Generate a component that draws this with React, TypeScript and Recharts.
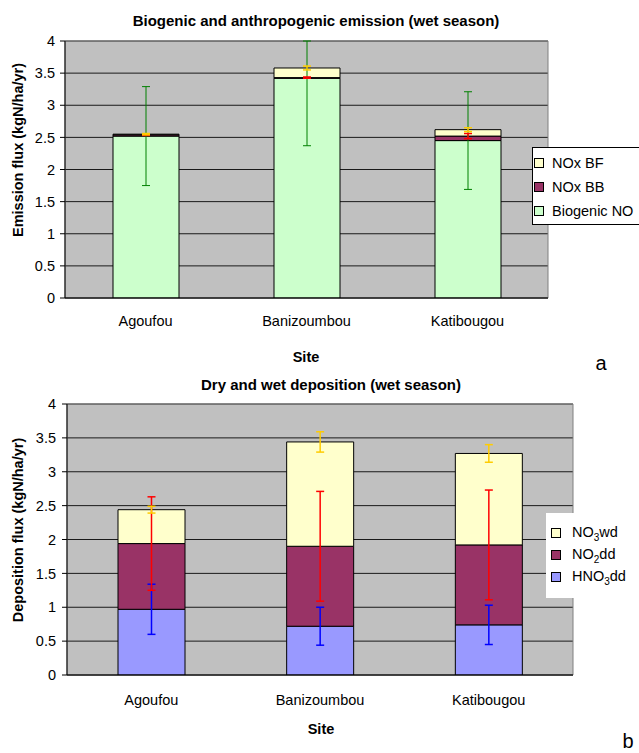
import React from "react";
import {
  BarChart, Bar, XAxis, YAxis, CartesianGrid, ErrorBar, Legend, ReferenceArea,
} from "recharts";

const FONT = '"Liberation Sans", Arial, sans-serif';

const sites = ["Agoufou", "Banizoumbou", "Katibougou"];
const yTicks = [0, 0.5, 1, 1.5, 2, 2.5, 3, 3.5, 4];

// panel a: biogenic + anthropogenic emission
const biogenicNO = [2.52, 3.42, 2.45];
const noxBB = [0.02, 0.01, 0.07];
const noxBF = [0.01, 0.15, 0.1];
// biogenic error: [down, up]; the Banizoumbou bar runs off the top of the axis at 4
const biogenicErrDown = [0.77, 1.05, 0.76];
const biogenicErrUp = [0.77, 0.58, 0.76];
const noxBBErr = [0.01, 0.01, 0.04];
const noxBFErr = [0.01, 0.03, 0.03];

// panel b: dry and wet deposition
const hno3dd = [0.97, 0.72, 0.74];
const no2dd = [0.97, 1.18, 1.18];
const no3wd = [0.5, 1.54, 1.35];
const hno3Err = [0.37, 0.28, 0.29];
const no2Err = [0.69, 0.81, 0.81];
const no3Err = [0.05, 0.15, 0.13];

const emissionData = sites.map((site, i) => ({
  site,
  bio: biogenicNO[i], bb: noxBB[i], bf: noxBF[i],
  bioErr: [biogenicErrDown[i], biogenicErrUp[i]], bbErr: noxBBErr[i], bfErr: noxBFErr[i],
}));

const depositionData = sites.map((site, i) => ({
  site,
  hno3: hno3dd[i], no2: no2dd[i], no3: no3wd[i],
  hno3Err: hno3Err[i], no2Err: no2Err[i], no3Err: no3Err[i],
}));

interface LegendItem { label: React.ReactNode; color: string; }

function LegendBox({ items, border, rowH, padTop }: { items: LegendItem[]; border: boolean; rowH: number; padTop: number }) {
  return (
    <div style={{
      background: "#fff", border: border ? "1px solid #000" : "none",
      fontFamily: FONT, fontSize: 14.5, color: "#000", paddingTop: padTop,
      boxSizing: "border-box", height: "100%",
    }}>
      {items.map((it, i) => (
        <div key={i} style={{ display: "flex", alignItems: "center", height: rowH }}>
          <span style={{
            display: "inline-block", width: 8, height: 8, background: it.color,
            border: "1px solid #000", marginLeft: border ? 1 : 5, marginRight: border ? 8 : 11,
          }} />
          <span style={{ whiteSpace: "nowrap" }}>{it.label}</span>
        </div>
      ))}
    </div>
  );
}

const axisText = { fill: "#000", fontSize: 14.5, fontFamily: FONT };

const abs = (left: number, top: number, extra: React.CSSProperties = {}): React.CSSProperties => ({
  position: "absolute", left, top, fontFamily: FONT, color: "#000", whiteSpace: "nowrap", ...extra,
});

export default function App() {
  return (
    <div style={{ position: "absolute", left: 0, top: 0, width: 639, height: 753, overflow: "hidden", background: "#fff" }}>
      {/* panel a */}
      <div style={{ position: "absolute", left: 0, top: 0 }}>
        <BarChart width={639} height={345} data={emissionData}
          margin={{ top: 41, right: 91, bottom: 7, left: 15 }}>
          <CartesianGrid vertical={false} stroke="#1a1a1a" fill="#C0C0C0" />
          <XAxis dataKey="site" interval={0} tickLine={false} tickSize={4} tickMargin={14} height={40}
            axisLine={{ stroke: "#000" }} tick={axisText} />
          <YAxis domain={[0, 4]} ticks={yTicks} allowDataOverflow interval={0} width={50}
            tickSize={5} tickMargin={5} axisLine={{ stroke: "#000" }} tickLine={{ stroke: "#000" }} tick={axisText} />
          <ReferenceArea y1={0} y2={4} fill="none" stroke="#808080" />
          <Bar dataKey="bio" stackId="e" fill="#CCFFCC" stroke="#000" strokeWidth={1} barSize={66} isAnimationActive={false}>
            <ErrorBar dataKey="bioErr" width={4} stroke="#008000" strokeWidth={1} />
          </Bar>
          <Bar dataKey="bb" stackId="e" fill="#993366" stroke="#000" strokeWidth={1} barSize={66} isAnimationActive={false}>
            <ErrorBar dataKey="bbErr" width={4} stroke="#FF0000" strokeWidth={1.5} />
          </Bar>
          <Bar dataKey="bf" stackId="e" fill="#FFFFCC" stroke="#000" strokeWidth={1} barSize={66} isAnimationActive={false}>
            <ErrorBar dataKey="bfErr" width={4} stroke="#FFCC00" strokeWidth={1.5} />
          </Bar>
          <Legend layout="horizontal" verticalAlign="middle" align="center"
            wrapperStyle={{ left: 532, top: 147, width: 112, height: 78 }}
            content={() => (
              <LegendBox border rowH={24} padTop={3} items={[
                { label: "NOx BF", color: "#FFFFCC" },
                { label: "NOx BB", color: "#993366" },
                { label: "Biogenic NO", color: "#CCFFCC" },
              ]} />
            )} />
        </BarChart>
      </div>

      {/* panel b */}
      <div style={{ position: "absolute", left: 0, top: 370 }}>
        <BarChart width={639} height={383} data={depositionData}
          margin={{ top: 34, right: 66, bottom: 38, left: 17 }}>
          <CartesianGrid vertical={false} stroke="#1a1a1a" fill="#C0C0C0" />
          <XAxis dataKey="site" interval={0} tickLine={false} tickSize={4} tickMargin={16} height={40}
            axisLine={{ stroke: "#000" }} tick={axisText} />
          <YAxis domain={[0, 4]} ticks={yTicks} allowDataOverflow interval={0} width={50}
            tickSize={5} tickMargin={6} axisLine={{ stroke: "#000" }} tickLine={{ stroke: "#000" }} tick={axisText} />
          <ReferenceArea y1={0} y2={4} fill="none" stroke="#808080" />
          <Bar dataKey="hno3" stackId="d" fill="#9999FF" stroke="#000" strokeWidth={1} barSize={67} isAnimationActive={false}>
            <ErrorBar dataKey="hno3Err" width={4} stroke="#0000FF" strokeWidth={1.5} />
          </Bar>
          <Bar dataKey="no2" stackId="d" fill="#993366" stroke="#000" strokeWidth={1} barSize={67} isAnimationActive={false}>
            <ErrorBar dataKey="no2Err" width={4} stroke="#FF0000" strokeWidth={1.5} />
          </Bar>
          <Bar dataKey="no3" stackId="d" fill="#FFFFCC" stroke="#000" strokeWidth={1} barSize={67} isAnimationActive={false}>
            <ErrorBar dataKey="no3Err" width={4} stroke="#FFCC00" strokeWidth={1.5} />
          </Bar>
          <Legend layout="horizontal" verticalAlign="middle" align="center"
            wrapperStyle={{ left: 546, top: 143, width: 93, height: 85 }}
            content={() => (
              <LegendBox border={false} rowH={22} padTop={9} items={[
                { label: <>NO<sub style={{ fontSize: 10 }}>3</sub>wd</>, color: "#FFFFCC" },
                { label: <>NO<sub style={{ fontSize: 10 }}>2</sub>dd</>, color: "#993366" },
                { label: <>HNO<sub style={{ fontSize: 10 }}>3</sub>dd</>, color: "#9999FF" },
              ]} />
            )} />
        </BarChart>
      </div>

      {/* titles and axis titles */}
      <div style={abs(316, 13, { transform: "translateX(-50%)", fontSize: 15, fontWeight: "bold", lineHeight: 1 })}>
        Biogenic and anthropogenic emission (wet season)
      </div>
      <div style={abs(18, 150, { transform: "translate(-50%,-50%) rotate(-90deg)", fontSize: 14.5, fontWeight: "bold", lineHeight: 1 })}>
        Emission flux (kgN/ha/yr)
      </div>
      <div style={abs(306, 350, { transform: "translateX(-50%)", fontSize: 14.5, fontWeight: "bold", lineHeight: 1 })}>
        Site
      </div>
      <div style={abs(601, 353, { transform: "translateX(-50%)", fontSize: 20, lineHeight: 1 })}>a</div>

      <div style={abs(331, 377, { transform: "translateX(-50%)", fontSize: 15, fontWeight: "bold", lineHeight: 1 })}>
        Dry and wet deposition (wet season)
      </div>
      <div style={abs(18, 530, { transform: "translate(-50%,-50%) rotate(-90deg)", fontSize: 14.5, fontWeight: "bold", lineHeight: 1 })}>
        Deposition flux (kgN/ha/yr)
      </div>
      <div style={abs(321, 722, { transform: "translateX(-50%)", fontSize: 14.5, fontWeight: "bold", lineHeight: 1 })}>
        Site
      </div>
      <div style={abs(628, 731, { transform: "translateX(-50%)", fontSize: 20, lineHeight: 1 })}>b</div>
    </div>
  );
}
